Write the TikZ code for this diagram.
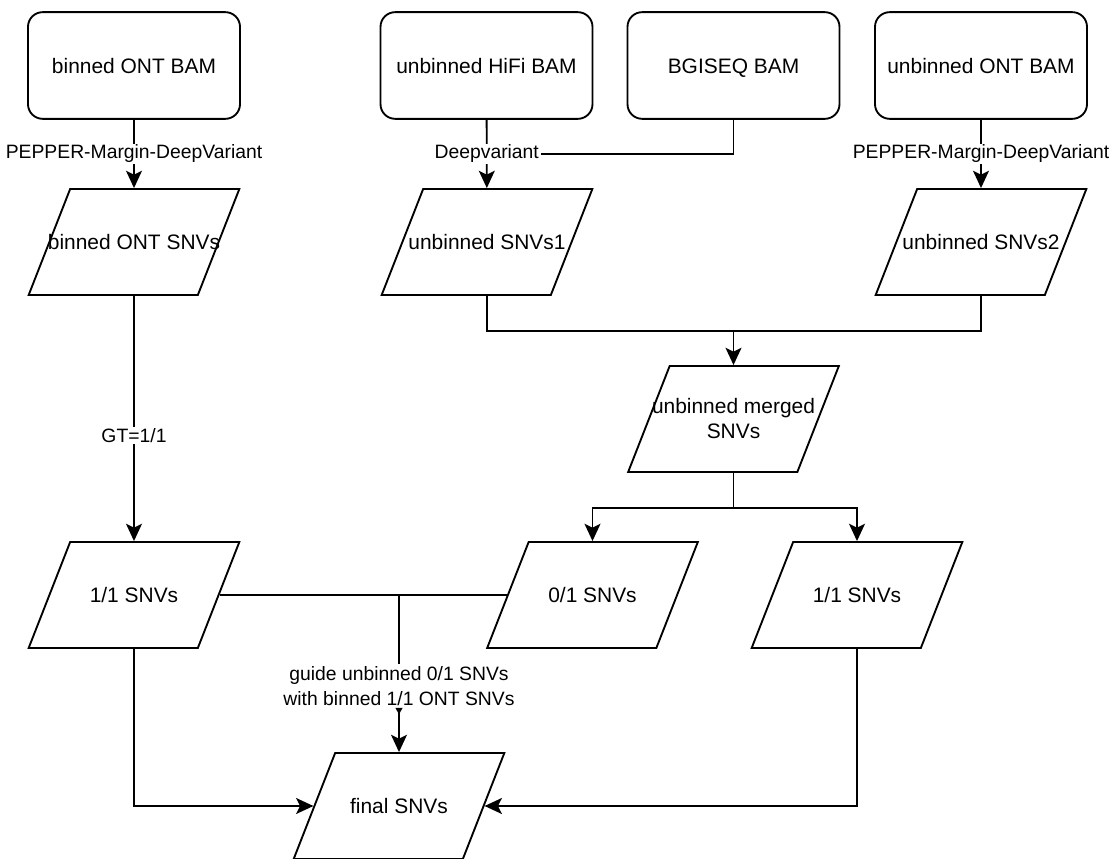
\documentclass[tikz,border=0pt]{standalone}
\usepackage{fontspec}
\setmainfont{Liberation Sans}
\usetikzlibrary{arrows.meta}
\usetikzlibrary{shapes.geometric}

\tikzset{
  nodefont/.style={font=\fontsize{15.7}{18.75}\selectfont},
  bam/.style={draw, rounded corners=11pt, minimum width=159pt, minimum height=80pt,
    text height=11.3pt, text depth=0pt, nodefont},
  snv/.style={draw, trapezium, trapezium left angle=72, trapezium right angle=108,
    trapezium stretches=true, minimum width=158pt, minimum height=79.5pt, inner sep=2pt,
    label={[nodefont, align=center, anchor=center]center:#1}},
  lbl/.style={fill=white, inner sep=1pt, align=center, font=\fontsize{14.5}{18.75}\selectfont},
  arr/.style={-{Stealth[length=13pt,width=12pt,inset=3pt]}},
}

\begin{document}
\begin{tikzpicture}[x=0.75pt, y=-0.75pt, line width=1.4pt]
  \useasboundingbox (0,0) rectangle (1117,859);

  % input BAMs
  \node[bam] (bbam) at (134,65.5)   {binned ONT BAM};
  \node[bam] (hbam) at (486.5,65.5) {unbinned HiFi BAM};
  \node[bam] (gbam) at (733.5,65.5) {BGISEQ BAM};
  \node[bam] (ubam) at (981,65.5)   {unbinned ONT BAM};

  % variant sets
  \node[snv={binned ONT SNVs}]        (bsnv) at (134,242)   {};
  \node[snv={unbinned SNVs1}]         (snv1) at (487,242)   {};
  \node[snv={unbinned SNVs2}]         (snv2) at (981,242)   {};
  \node[snv={unbinned merged\\SNVs}]  (msnv) at (733.5,419) {};
  \node[snv={1/1 SNVs}]               (homb) at (134,595)   {};
  \node[snv={0/1 SNVs}]               (hetu) at (592.5,595) {};
  \node[snv={1/1 SNVs}]               (homu) at (857,595)   {};
  \node[snv={final SNVs}]             (fsnv) at (399,806)   {};
  \node[lbl] (glbl) at (399,686) {guide unbinned 0/1 SNVs\\with binned 1/1 ONT SNVs};

  % calling
  \draw[arr] (bbam) -- node[lbl] {PEPPER-Margin-DeepVariant} (bsnv);
  \draw[arr] (hbam) -- node[lbl] (dv) {Deepvariant} (snv1);
  \draw (gbam.south) |- (dv.east);
  \draw[arr] (ubam) -- node[lbl] {PEPPER-Margin-DeepVariant} (snv2);

  % merge and split
  \draw (snv1.south) -- ++(0,35) coordinate (mj) -| (snv2.south);
  \draw[arr] (mj -| msnv.north) -- (msnv.north);
  \draw (msnv.south) -- ++(0,35) coordinate (sj);
  \draw[arr] (sj) -| (hetu.north);
  \draw[arr] (sj) -| (homu.north);
  \draw[arr] (bsnv) -- node[lbl, pos=0.57] {GT=1/1} (homb);

  % final
  \draw (homb.east) -- (hetu.west);
  \draw (glbl.north |- homb.east) -- (glbl.north);
  \draw[{Triangle[length=5pt,width=5pt,reversed]}-{Stealth[length=13pt,width=12pt,inset=3pt]}]
    (glbl.south) -- (fsnv.north);
  \draw[arr] (homb.south) |- (fsnv.west);
  \draw[arr] (homu.south) |- (fsnv.east);
\end{tikzpicture}
\end{document}
